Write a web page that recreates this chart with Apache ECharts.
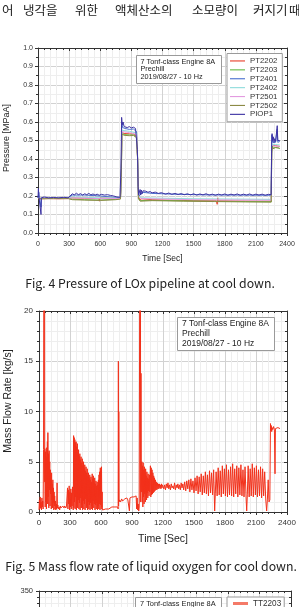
<!DOCTYPE html>
<html><head><meta charset="utf-8">
<script src="https://cdn.jsdelivr.net/npm/echarts@6/dist/echarts.min.js"></script>
<style>html,body{margin:0;padding:0;background:#fff}#c{width:299px;height:607px}</style>
</head><body><div id="c"></div>
<script>
// ---------- text ----------
const koreanWords = ['어','냉각을','위한','액체산소의','소모량이','커지기','때'];
const captionFig4 = 'Fig. 4 Pressure of LOx pipeline at cool down.';
const captionFig5 = 'Fig. 5 Mass flow rate of liquid oxygen for cool down.';
const infoLines = ['7 Tonf-class Engine 8A', 'Prechill', '2019/08/27 - 10 Hz'];
const timeAxisName = 'Time [Sec]';
const pressureAxisName = 'Pressure [MPaA]';
const flowAxisName = 'Mass Flow Rate [kg/s]';

// ---------- axes ----------
const timeMin = 0, timeMax = 2400, timeStep = 300;
const pressureMin = 0, pressureMax = 1.0, pressureStep = 0.1;
const flowMin = 0, flowMax = 20, flowStep = 5;
const tempMin = 50, tempMax = 350, tempStep = 50;

// ---------- Fig.4 pressure series ----------
const pressureNames = ['PT2202','PT2203','PT2401','PT2402','PT2501','PT2502','PIOP1'];
const PT2202 = [[0,0.185],[30,0.185],[100,0.186],[200,0.185],[290,0.186],[330,0.19],[450,0.188],[588,0.186],[592,0.172],[597,0.19],[700,0.188],[795,0.186],[802,0.3],[808,0.545],[830,0.538],[880,0.536],[920,0.535],[950,0.525],[960,0.4],[968,0.2],[980,0.18],[1000,0.185],[1100,0.18],[1300,0.177],[1500,0.175],[1720,0.174],[1727,0.155],[1732,0.19],[1738,0.174],[1900,0.173],[2100,0.172],[2248,0.172],[2252,0.45],[2258,0.475],[2270,0.468],[2290,0.472],[2310,0.47],[2330,0.468]];
const PT2203 = [[0,0.188],[30,0.186],[150,0.188],[290,0.187],[330,0.183],[450,0.18],[600,0.178],[750,0.182],[795,0.185],[803,0.3],[809,0.54],[830,0.532],[880,0.53],[920,0.53],[950,0.52],[960,0.4],[968,0.19],[985,0.175],[1000,0.18],[1100,0.177],[1400,0.174],[1700,0.172],[2000,0.17],[2248,0.169],[2253,0.44],[2260,0.465],[2270,0.458],[2290,0.462],[2310,0.46],[2330,0.458]];
const PT2401 = [[0,0.19],[8,0.22],[14,0.19],[29,0.14],[34,0.19],[100,0.19],[200,0.19],[290,0.19],[330,0.205],[450,0.205],[600,0.2],[760,0.192],[795,0.19],[802,0.34],[808,0.6],[815,0.57],[840,0.565],[880,0.56],[920,0.562],[950,0.548],[958,0.44],[966,0.24],[972,0.2],[990,0.21],[1010,0.22],[1100,0.214],[1300,0.21],[1600,0.206],[1900,0.205],[2246,0.204],[2250,0.21],[2254,0.53],[2262,0.49],[2275,0.5],[2290,0.49],[2305,0.56],[2312,0.49],[2330,0.495]];
const PT2402 = [[0,0.19],[300,0.19],[330,0.195],[600,0.19],[795,0.188],[803,0.33],[809,0.555],[880,0.55],[950,0.54],[960,0.42],[968,0.2],[1000,0.19],[1500,0.185],[2248,0.182],[2253,0.46],[2262,0.48],[2290,0.478],[2330,0.476]];
const PT2501 = [[0,0.189],[300,0.188],[330,0.19],[600,0.186],[795,0.186],[803,0.32],[809,0.548],[880,0.543],[950,0.533],[960,0.41],[968,0.195],[1000,0.186],[1500,0.18],[2248,0.177],[2253,0.455],[2262,0.472],[2290,0.47],[2330,0.468]];
const PT2502 = [[0,0.187],[30,0.185],[150,0.186],[290,0.186],[330,0.18],[450,0.178],[600,0.176],[750,0.18],[795,0.184],[803,0.3],[809,0.535],[830,0.528],[880,0.526],[920,0.527],[950,0.515],[960,0.4],[968,0.185],[985,0.172],[1000,0.178],[1100,0.175],[1400,0.172],[1700,0.17],[2000,0.168],[2248,0.167],[2253,0.43],[2258,0.47],[2264,0.455],[2272,0.465],[2282,0.452],[2292,0.462],[2305,0.455],[2318,0.46],[2330,0.456]];
const PIOP1 = [[0,0.19],[4,0.24],[8,0.2],[14,0.19],[20,0.2],[26,0.19],[29,0.1],[32,0.19],[60,0.195],[100,0.19],[150,0.192],[200,0.19],[250,0.193],[290,0.19],[310,0.2],[330,0.212],[350,0.206],[370,0.215],[390,0.207],[410,0.213],[430,0.205],[450,0.212],[470,0.207],[490,0.214],[510,0.206],[530,0.211],[550,0.205],[570,0.21],[590,0.204],[610,0.209],[640,0.205],[670,0.207],[700,0.203],[730,0.2],[760,0.195],[790,0.193],[800,0.35],[806,0.625],[812,0.585],[820,0.6],[830,0.575],[845,0.58],[860,0.57],[880,0.575],[900,0.568],[920,0.572],[940,0.565],[950,0.555],[958,0.45],[965,0.25],[970,0.205],[978,0.2],[984,0.235],[990,0.205],[996,0.232],[1004,0.212],[1012,0.228],[1025,0.222],[1040,0.226],[1060,0.22],[1080,0.224],[1100,0.217],[1130,0.221],[1160,0.214],[1190,0.218],[1230,0.21],[1260,0.216],[1290,0.209],[1320,0.214],[1350,0.208],[1380,0.213],[1410,0.207],[1440,0.212],[1470,0.206],[1500,0.212],[1530,0.205],[1560,0.211],[1590,0.206],[1620,0.212],[1650,0.205],[1680,0.21],[1710,0.204],[1740,0.21],[1770,0.205],[1800,0.211],[1830,0.204],[1860,0.21],[1890,0.205],[1920,0.211],[1950,0.204],[1980,0.21],[2010,0.205],[2040,0.211],[2070,0.204],[2100,0.21],[2130,0.205],[2160,0.21],[2190,0.204],[2220,0.209],[2248,0.207],[2252,0.48],[2256,0.537],[2262,0.5],[2268,0.52],[2275,0.49],[2282,0.51],[2290,0.495],[2300,0.505],[2306,0.58],[2311,0.5],[2320,0.505],[2330,0.5]];
const pressureSeries = [PT2202, PT2203, PT2401, PT2402, PT2501, PT2502, PIOP1];
const pressureColors = ['#e8412b','#66bb47','#4a70cf','#8fdcdc','#e39be0','#8c8a45','#3d33a3'];

// ---------- Fig.5 mass flow rate ----------
const flowName = 'Mass flow';
const flowData = [
[0,0.2],[4,1.2],[8,0.3],[12,1.5],[16,0.4],[20,1.0],[24,0.2],[28,1.4],[32,0.5],[36,1.1],[40,0.3],
[44,6.2],[46,21],[50,22],[54,21],[55,3.0],[57,6.3],
[60,0.5],[63,6.0],[66,1.0],[69,5.5],[72,0.3],[75,6.4],[78,2.0],[81,7.0],[84,0.8],[86,7.9],[89,1.5],[92,5.8],[95,0.4],[98,6.1],[101,2.2],[104,5.0],[107,0.6],[110,4.2],[113,1.8],[116,3.6],[119,0.3],[122,3.9],[125,1.2],[128,2.8],[131,0.4],[134,3.2],[137,0.9],[140,2.4],[143,0.2],[146,2.0],[149,0.6],[152,1.6],[155,0.3],[159,1.1],[163,0.2],[167,0.8],[171,0.3],[175,2.9],[178,0.4],[182,0.7],[188,0.3],[194,0.5],[200,0.2],[206,0.6],[212,0.4],[218,0.5],[224,0.3],[230,0.6],[236,0.5],[242,0.4],[248,0.6],[254,0.5],[260,0.4],[266,0.6],[272,0.5],
[276,2.4],[280,0.3],[284,2.2],[288,0.8],[292,2.6],[296,0.2],[300,2.0],[304,0.5],[308,2.3],[312,0.3],[316,1.9],[320,0.6],[324,2.5],[328,0.4],
[332,0.2],[335,7.6],[338,0.4],[341,7.4],[344,1.0],[347,7.2],[350,0.3],[353,6.9],[356,1.5],[359,7.0],[362,0.2],[365,6.5],[368,0.8],[371,6.8],[374,0.4],[377,5.9],[380,1.2],[383,6.2],[386,0.3],[389,5.6],[392,0.9],[395,5.8],[398,0.2],[401,5.2],[404,1.4],[407,5.5],[410,0.4],[413,4.9],[416,0.7],[419,5.3],[422,0.2],[425,4.6],[428,1.1],[431,5.0],[434,0.3],[437,4.4],[440,0.8],[443,4.7],[446,0.2],[449,4.1],[452,1.3],[455,4.5],[458,0.4],[461,3.9],[464,0.6],[467,4.3],[470,0.2],[473,3.6],[476,1.0],[479,3.9],[482,0.3],[485,3.4],[488,0.7],[491,3.7],[494,0.2],[497,3.2],[500,0.9],[503,3.5],[506,0.3],[509,3.0],[512,0.6],[515,3.8],[518,0.2],[521,3.3],[524,1.1],[527,3.6],[530,0.4],[533,2.9],[536,0.8],[539,3.4],[542,0.2],[545,2.8],[548,0.7],[551,3.1],[554,0.3],[557,2.6],[560,0.9],[563,3.0],[566,0.2],[569,2.7],[572,0.6],[575,3.2],[578,0.3],[581,3.7],[584,0.8],[587,4.0],[590,0.2],[593,4.4],[596,0.7],[599,4.1],[602,0.3],[605,4.5],[608,0.5],[611,2.0],[614,0.2],
[620,0.1],[630,0.2],[645,0.3],[660,0.4],[675,0.3],[690,0.4],[705,0.5],[720,0.4],[735,0.5],[750,0.4],[762,0.5],
[766,0.3],[768,15.0],[770,0.6],[772,10.0],[775,1.0],
[780,1.2],[790,1.0],[800,1.3],[810,1.1],[820,1.2],[830,1.3],[840,1.2],[850,1.4],[860,1.2],[870,1.3],[875,0.1],[880,1.4],[890,1.3],[900,1.5],[910,1.4],[920,1.5],[930,1.4],[940,1.6],[945,0.3],[950,1.4],[955,0.2],[960,0.8],[965,0.1],[970,0.5],
[974,20.5],[978,21],[982,20.5],[984,1.0],[987,13.8],[990,2.0],
[993,4.0],[996,5.0],[999,1.0],[1002,4.6],[1005,0.5],[1008,4.9],[1011,1.5],[1014,4.2],[1017,0.8],[1020,4.5],[1023,1.8],[1026,3.9],[1029,1.0],[1032,4.3],[1035,2.0],[1038,3.6],[1041,1.2],[1044,4.0],[1047,1.9],[1050,3.4],[1053,1.4],[1056,3.8],[1059,2.1],[1062,3.3],[1065,1.6],[1068,3.7],[1071,2.0],[1074,3.1],[1078,4.6],[1082,1.5],[1086,4.4],[1090,1.7],[1094,4.2],[1098,1.8],[1102,3.9],[1106,1.9],[1110,3.6],[1114,2.0],[1118,3.4],[1122,2.1],[1126,3.2],[1130,2.2],[1135,3.0],[1140,2.2],[1145,2.9],[1150,2.3],[1155,2.8],[1160,2.3],[1165,2.8],[1170,2.4],[1175,2.7],[1180,2.3],[1185,2.8],[1190,2.4],[1195,2.7],
[1200,2.8],[1208,2.3],[1216,2.7],[1224,2.2],[1232,2.8],[1240,2.4],[1248,2.9],[1256,2.3],[1264,2.7],[1272,2.2],[1280,2.8],[1288,2.4],[1296,2.6],[1304,2.3],[1312,2.9],[1320,2.2],[1328,2.7],[1336,2.4],[1344,2.8],[1352,2.3],[1360,2.7],[1368,2.2],[1376,2.9],[1384,2.4],[1392,2.8],
[1400,2.2],[1410,3.0],[1420,2.1],[1430,3.1],[1440,2.3],[1450,3.2],[1460,2.0],[1470,3.3],[1480,2.2],[1490,3.1],[1500,1.9],[1510,3.4],[1520,2.1],[1530,3.6],[1540,1.8],[1550,3.5],[1560,2.0],[1570,3.8],[1580,1.7],[1590,3.6],[1600,1.9],[1610,4.0],[1620,1.8],[1630,3.7],[1640,1.6],[1650,4.1],[1660,1.9],[1670,3.9],[1680,1.7],[1690,4.2],[1700,0.1],[1706,1.8],[1714,4.0],
[1724,1.6],[1734,4.4],[1744,1.7],[1754,4.1],[1764,1.5],[1774,4.6],[1784,1.8],[1794,4.3],[1804,1.6],[1814,4.7],[1824,1.5],[1834,4.2],[1844,1.7],[1854,4.5],[1864,1.6],[1874,4.8],[1884,1.5],[1894,4.3],[1904,1.8],[1914,4.6],[1924,1.5],[1934,4.4],[1944,1.7],[1954,4.7],[1964,1.6],[1974,4.2],[1984,1.5],[1994,4.5],[2004,1.4],[2010,0.1],[2016,1.7],[2024,4.6],[2034,1.5],[2044,4.3],[2054,1.6],[2064,4.8],[2074,1.5],[2084,4.4],[2094,1.7],[2104,4.6],[2114,1.5],[2124,4.2],[2134,1.6],[2144,4.5],[2154,1.4],[2164,4.3],[2174,1.6],[2184,4.0],[2194,1.3],[2203,0.1],[2210,1.2],[2218,3.2],[2226,1.0],[2234,1.2],
[2240,8.8],[2244,8.1],[2248,8.6],[2252,8.0],[2256,8.4],[2262,8.2],[2270,8.5],[2278,8.2],[2284,3.8],[2288,8.3],[2296,8.4],[2304,8.2],[2312,8.4],[2320,8.3],[2328,8.4],[2332,8.3]
];

// ---------- Fig.6 (partially visible) ----------
const tempNames = ['TT2203'];
const TT2203 = [];

// ---------- layout ----------
const G = [
  {left:38, top:48, width:249, height:185},
  {left:39, top:311, width:248, height:201},
  {left:39, top:591, width:252, height:190}
];
const AX = '#333';
const SANS = 'Liberation Sans';
const plain = v => String(v);

function xBottom(gi, fs, margin, name, nameSize, nameGap) {
  return {type:'value', gridIndex:gi, position:'bottom', min:timeMin, max:timeMax, interval:timeStep,
    axisLine:{show:true, onZero:false, lineStyle:{color:AX, width:1}},
    axisTick:{show:true, length:3, lineStyle:{color:AX}},
    minorTick:{show:true, splitNumber:5, length:2, lineStyle:{color:AX}},
    axisLabel:{fontSize:fs, margin, color:'#333', fontFamily:SANS, formatter:plain},
    splitLine:{show:true, lineStyle:{color:'#d2d2d2', width:1}},
    minorSplitLine:{show:true, lineStyle:{color:'#eeeeee', width:1}},
    name, nameLocation:'middle', nameGap, nameTextStyle:{fontSize:nameSize, color:'#222', fontFamily:SANS}};
}
function xTop(gi) {
  return {type:'value', gridIndex:gi, position:'top', min:timeMin, max:timeMax, interval:timeStep,
    axisLine:{show:true, onZero:false, lineStyle:{color:AX, width:1}},
    axisTick:{show:true, inside:true, length:3, lineStyle:{color:AX}},
    minorTick:{show:true, splitNumber:5, length:2, lineStyle:{color:AX}},
    axisLabel:{show:false}, splitLine:{show:false}};
}
function yLeft(gi, min, max, step, minorSplit, fs, margin, fmt) {
  return {type:'value', gridIndex:gi, position:'left', min, max, interval:step,
    axisLine:{show:true, onZero:false, lineStyle:{color:AX, width:1}},
    axisTick:{show:true, length:3, lineStyle:{color:AX}},
    minorTick:{show:true, splitNumber:minorSplit, length:2, lineStyle:{color:AX}},
    axisLabel:{fontSize:fs, margin, color:'#333', fontFamily:SANS, formatter:fmt},
    splitLine:{show:true, lineStyle:{color:'#d2d2d2', width:1}},
    minorSplitLine:{show:true, lineStyle:{color:'#eeeeee', width:1}}};
}
function yRight(gi, min, max, step, minorSplit) {
  return {type:'value', gridIndex:gi, position:'right', min, max, interval:step,
    axisLine:{show:true, onZero:false, lineStyle:{color:AX, width:1}},
    axisTick:{show:true, inside:true, length:3, lineStyle:{color:AX}},
    minorTick:{show:true, splitNumber:minorSplit, length:2, lineStyle:{color:AX}},
    axisLabel:{show:false}, splitLine:{show:false}};
}

// fit a text to a width
const mctx = document.createElement('canvas').getContext('2d');
function fitSize(text, family, width) {
  mctx.font = '100px ' + family;
  return 100 * width / mctx.measureText(text).width;
}
const CAPFONT = '"Noto Sans CJK KR"';
const cap4Size = fitSize(captionFig4, CAPFONT, 250);
const cap5Size = fitSize(captionFig5, CAPFONT, 292);

const koreanX = [2, 23, 75, 115, 192, 253, 289];
const graphics = [];
koreanWords.forEach((w, i) => graphics.push({type:'text', x:koreanX[i], y:10, z:100,
  style:{text:w, fontSize:12.5, fontFamily:CAPFONT, fill:'#222', verticalAlign:'middle'}}));
graphics.push({type:'text', x:150, y:283.5, z:100, style:{text:captionFig4, fontSize:cap4Size, fontFamily:CAPFONT, fill:'#222', align:'center', verticalAlign:'middle'}});
graphics.push({type:'text', x:151, y:566, z:100, style:{text:captionFig5, fontSize:cap5Size, fontFamily:CAPFONT, fill:'#222', align:'center', verticalAlign:'middle'}});
// y axis titles
graphics.push({type:'text', x:7, y:138, rotation:Math.PI/2, z:100, style:{text:pressureAxisName, fontSize:9, fontFamily:SANS, fill:'#222', align:'center', verticalAlign:'middle'}});
graphics.push({type:'text', x:8.5, y:401, rotation:Math.PI/2, z:100, style:{text:flowAxisName, fontSize:10.5, fontFamily:SANS, fill:'#222', align:'center', verticalAlign:'middle'}});
// info boxes
function infoBox(x, y, w, h, tx, ys, fs, lines) {
  graphics.push({type:'rect', z:100, shape:{x, y, width:w, height:h}, style:{fill:'#fff', stroke:'#9a9a9a', lineWidth:1}});
  lines.forEach((t, i) => graphics.push({type:'text', z:101, x:tx, y:ys[i], style:{text:t, fontSize:fs, fontFamily:SANS, fill:'#222', verticalAlign:'middle'}}));
}
infoBox(136.5, 55.5, 85, 28, 140.5, [61.8, 69.2, 76.7], 7.3, infoLines);
infoBox(177.5, 317.5, 97, 33, 182, [323.5, 333.6, 344], 8.5, infoLines);
infoBox(135.5, 597.5, 86, 30, 140, [603.5], 7.4, infoLines.slice(0,1));

const series = pressureSeries.map((d, i) => ({
  name:pressureNames[i], type:'line', xAxisIndex:0, yAxisIndex:0, data:d,
  symbol:'none', showSymbol:false, color:pressureColors[i], lineStyle:{width:1, color:pressureColors[i]}, z:2+i
}));
series.push({name:flowName, type:'line', xAxisIndex:2, yAxisIndex:2, data:flowData, symbol:'none', showSymbol:false,
  color:'#f2311b', lineStyle:{width:1, color:'#f2311b'}});
series.push({name:tempNames[0], type:'line', xAxisIndex:4, yAxisIndex:4, data:TT2203, symbol:'none', showSymbol:false,
  color:'#f47a68', lineStyle:{width:3, color:'#f47a68'}});

const option = {
  animation:false,
  backgroundColor:'#fff',
  textStyle:{fontFamily:SANS},
  grid:G.map(g => Object.assign({containLabel:false, outerBoundsMode:'none'}, g)),
  xAxis:[
    xBottom(0, 7, 8, timeAxisName, 8.5, 21.5), xTop(0),
    xBottom(1, 8, 7, timeAxisName, 10.5, 21.5), xTop(1),
    xBottom(2, 7.5, 7, '', 9, 20), xTop(2)
  ],
  yAxis:[
    yLeft(0, pressureMin, pressureMax, pressureStep, 2, 7, 5, v => v.toFixed(1)), yRight(0, pressureMin, pressureMax, pressureStep, 2),
    yLeft(1, flowMin, flowMax, flowStep, 5, 8, 6, plain), yRight(1, flowMin, flowMax, flowStep, 5),
    yLeft(2, tempMin, tempMax, tempStep, 5, 7.5, 6, plain), yRight(2, tempMin, tempMax, tempStep, 5)
  ],
  legend:[
    {data:pressureNames, orient:'vertical', left:227, top:53.5, padding:[3,5,3,3], itemGap:0, itemWidth:15, itemHeight:8.9,
     icon:'path://M0,0H40V3H0Z',
     textStyle:{fontSize:7.8, lineHeight:8.9, color:'#333', fontFamily:SANS}, borderColor:'#9a9a9a', borderWidth:1, backgroundColor:'#fff', selectedMode:false},
    {data:tempNames, orient:'vertical', left:227, top:597, padding:[2,3,3,6], itemGap:0, itemWidth:15, itemHeight:9,
     icon:'path://M0,0H40V8H0Z',
     textStyle:{fontSize:8.2, lineHeight:9, color:'#333', fontFamily:SANS}, borderColor:'#9a9a9a', borderWidth:1, backgroundColor:'#fff', selectedMode:false}
  ],
  graphic:graphics,
  series
};
const chart = echarts.init(document.getElementById('c'), null, {renderer:'canvas', width:299, height:607});
chart.setOption(option);
</script>
</body></html>
